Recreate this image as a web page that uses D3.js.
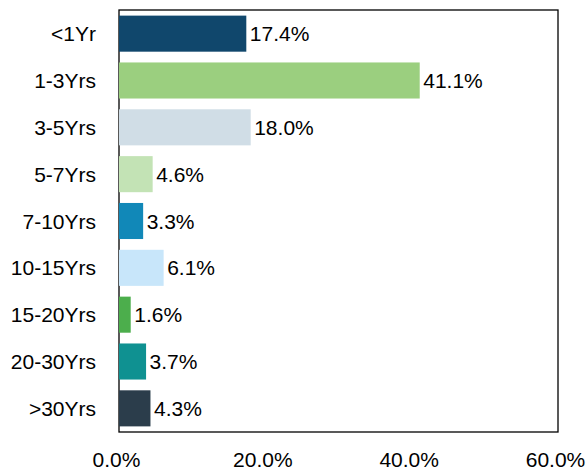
<!DOCTYPE html>
<html>
<head>
<meta charset="utf-8">
<script src="https://cdn.jsdelivr.net/npm/d3@7"></script>
<style>
  body { margin: 0; background: #fff; }
  svg { display: block; font-family: "Liberation Sans", Arial, sans-serif; }
</style>
</head>
<body>
<svg id="svg" width="586" height="471"></svg>
<script>
let categories = ["<1Yr", "1-3Yrs", "3-5Yrs", "5-7Yrs", "7-10Yrs", "10-15Yrs", "15-20Yrs", "20-30Yrs", ">30Yrs"];
let values = [17.4, 41.1, 18.0, 4.6, 3.3, 6.1, 1.6, 3.7, 4.3];
let colors = ["#10476c", "#9bcf7f", "#d0dde6", "#c3e3b5", "#1188b8", "#c8e6fa", "#4cae4c", "#0f9191", "#2b3d4b"];
let ticks = [0, 20, 40, 60];

let svg = d3.select("#svg");

let plotLeft = 119, plotRight = 558, plotTop = 10, plotBottom = 432;

let x = d3.scaleLinear().domain([0, 60]).range([plotLeft, plotRight]);
let y = d3.scaleBand().domain(categories).range([plotTop, plotBottom]).paddingInner(0.23).paddingOuter(0.12);

/* Frame */
svg.append("rect")
  .attr("x", plotLeft)
  .attr("y", plotTop)
  .attr("width", plotRight - plotLeft)
  .attr("height", plotBottom - plotTop)
  .attr("fill", "none")
  .attr("stroke", "#000")
  .attr("stroke-width", 1.3);

/* Bars */
svg.selectAll(".bar")
  .data(values)
  .enter()
  .append("rect")
  .attr("x", x(0))
  .attr("y", (d, i) => y(categories[i]))
  .attr("width", d => x(d) - x(0))
  .attr("height", y.bandwidth())
  .attr("fill", (d, i) => colors[i]);

/* Value labels */
svg.selectAll(".val")
  .data(values)
  .enter()
  .append("text")
  .attr("x", d => x(d) + 3.5)
  .attr("y", (d, i) => y(categories[i]) + y.bandwidth() / 2)
  .attr("dy", "0.36em")
  .attr("font-size", 21)
  .attr("fill", "#000")
  .text(d => d.toFixed(1) + "%");

/* Category labels */
svg.selectAll(".cat")
  .data(categories)
  .enter()
  .append("text")
  .attr("x", 96)
  .attr("y", d => y(d) + y.bandwidth() / 2)
  .attr("dy", "0.36em")
  .attr("text-anchor", "end")
  .attr("font-size", 21)
  .attr("fill", "#000")
  .text(d => d);

/* X tick labels */
svg.selectAll(".tick")
  .data(ticks)
  .enter()
  .append("text")
  .attr("x", d => x(d) - 2.5)
  .attr("y", 467)
  .attr("text-anchor", "middle")
  .attr("font-size", 21)
  .attr("fill", "#000")
  .text(d => d.toFixed(1) + "%");
</script>
</body>
</html>
